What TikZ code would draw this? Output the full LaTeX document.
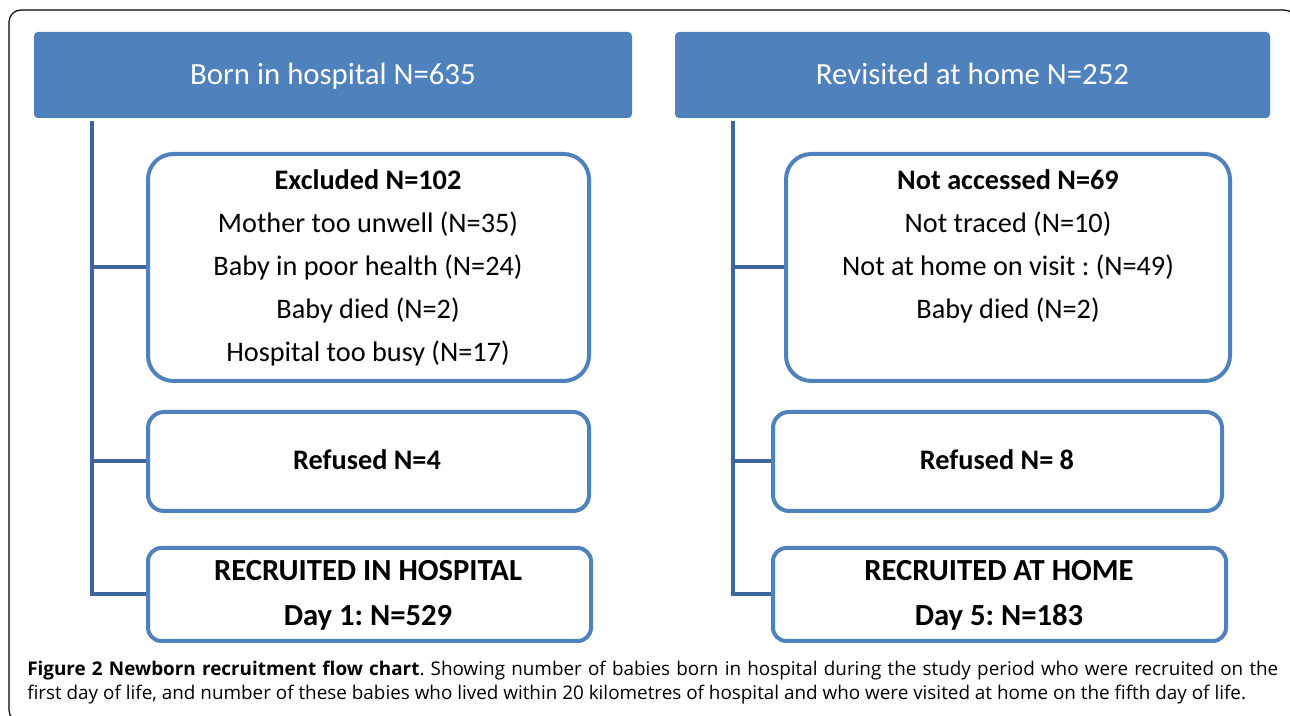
\documentclass[tikz,border=0pt]{standalone}
\usepackage{fontspec}
\setmainfont{Carlito}
\newfontfamily\capfont{Open Sans}
\frenchspacing
\definecolor{hdrblue}{RGB}{79,129,189}
\definecolor{boxblue}{RGB}{79,129,189}
\definecolor{lineblue}{RGB}{62,102,154}
\tikzset{
  px/.style={x=0.75pt,y=-0.75pt},
  hdr/.style={fill=hdrblue,draw=none,rounded corners=3pt,inner sep=0pt},
  sbox/.style={draw=boxblue,line width=3pt,fill=white,rounded corners=#1,inner sep=0pt},
  sbox/.default=18pt,
  conn/.style={draw=lineblue,line width=3pt},
  htxt/.style={anchor=base,text=white,font=\fontsize{23.1}{27}\selectfont,inner sep=0pt},
  btxt/.style={anchor=base,font=\fontsize{21.2}{25}\selectfont,inner sep=0pt},
  bbtxt/.style={anchor=base,font=\fontsize{21.2}{25}\selectfont\bfseries,inner sep=0pt},
  rtxt/.style={anchor=base,font=\fontsize{23}{27}\selectfont\bfseries,inner sep=0pt},
  captxt/.style={anchor=base west,font=\capfont\fontsize{14.15}{16}\selectfont,inner sep=0pt}
}
\begin{document}
\begin{tikzpicture}[px]
\useasboundingbox (0,0) rectangle (1290,716);
% outer frame
\draw[line width=0.9pt,rounded corners=9pt] (9,10) rectangle (1296,722);
% headers
\node[hdr,minimum width=448.5pt,minimum height=64.5pt] (hL) at (333,75) {};
\node[hdr,minimum width=446.25pt,minimum height=64.5pt] (hR) at (972.5,75) {};
\node[htxt] (hLt) at (333,85) {Born in hospital N=635};
\node[htxt] (hRt) at (972.5,85) {Revisited at home N=252};
% left boxes
\node[sbox=19pt,minimum width=330.75pt,minimum height=170.25pt] (exL) at (368.5,267.5) {};
\node[sbox=12pt,minimum width=330.75pt,minimum height=74.25pt] (rfL) at (368.5,461.5) {};
\node[sbox=10pt,minimum width=332.25pt,minimum height=69.75pt] (rcL) at (369.5,594.5) {};
% right boxes
\node[sbox=19pt,minimum width=333pt,minimum height=170.25pt] (exR) at (1008,267.5) {};
\node[sbox=12pt,minimum width=336.75pt,minimum height=74.25pt] (rfR) at (997.5,461.5) {};
\node[sbox=10pt,minimum width=339.75pt,minimum height=69.75pt] (rcR) at (999.5,594.5) {};
% trunks
\coordinate (tL) at (92,121);
\coordinate (tR) at (733,121);
\draw[conn] (tL) |- (rcL.west);
\draw[conn] (tL |- exL.west) -- (exL.west);
\draw[conn] (tL |- rfL.west) -- (rfL.west);
\draw[conn] (tR) |- (rcR.west);
\draw[conn] (tR |- exR.west) -- (exR.west);
\draw[conn] (tR |- rfR.west) -- (rfR.west);
% left texts
\node[bbtxt] (l1) at (368,190) {Excluded N=102};
\node[btxt] (l2) at (368,233) {Mother too unwell (N=35)};
\node[btxt] (l3) at (368,276) {Baby in poor health (N=24)};
\node[btxt] (l4) at (368,319) {Baby died (N=2)};
\node[btxt] (l5) at (368,362) {Hospital too busy (N=17)};
\node[bbtxt] (l6) at (367,470) {Refused N=4};
\node[rtxt] (l7) at (368,581) {RECRUITED IN HOSPITAL};
\node[rtxt] (l8) at (368,626) {Day 1: N=529};
% right texts
\node[bbtxt] (r1) at (1008,190) {Not accessed N=69};
\node[btxt] (r2) at (1008,233) {Not traced (N=10)};
\node[btxt] (r3) at (1008,276) {Not at home on visit : (N=49)};
\node[btxt] (r4) at (1008,319) {Baby died (N=2)};
\node[bbtxt] (r6) at (997,470) {Refused N= 8};
\node[rtxt] (r7) at (999,581) {RECRUITED AT HOME};
\node[rtxt] (r8) at (999,626) {Day 5: N=183};
% caption
\node[captxt] (c1) at (27,676) {\makebox[938.25pt][s]{\textbf{Figure 2 Newborn recruitment flow chart}. Showing number of babies born in hospital during the study period who were recruited on the}};
\node[captxt] (c2) at (27,700) {first day of life, and number of these babies who lived within 20 kilometres of hospital and who were visited at home on the fifth day of life.};
\end{tikzpicture}
\end{document}
